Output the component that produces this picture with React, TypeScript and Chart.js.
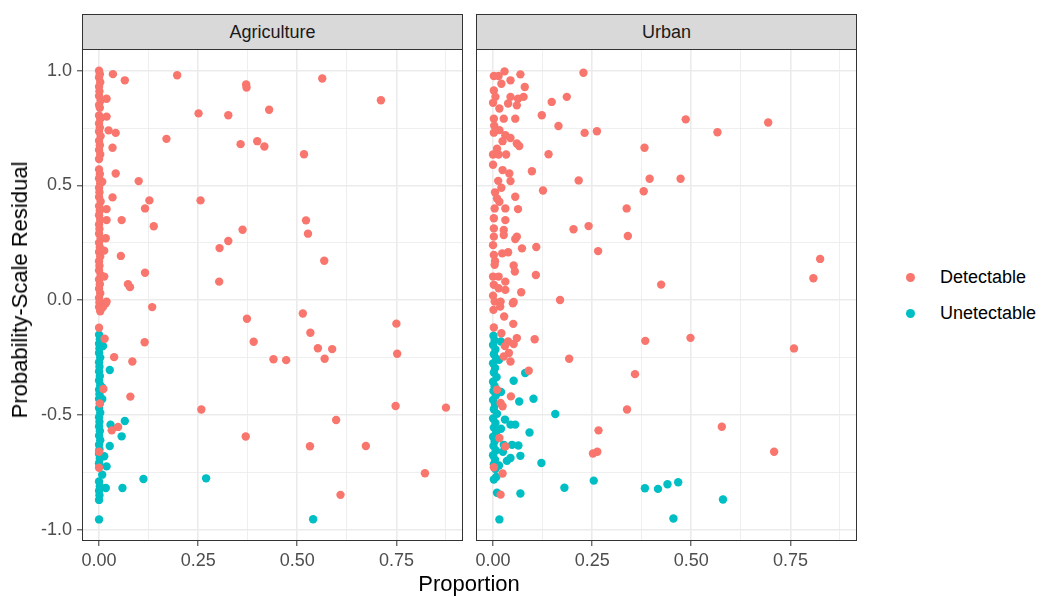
import React, { useEffect, useRef } from 'react';
import { Chart, registerables } from 'chart.js';

Chart.register(...registerables);

type Pt = [number, number];

const FONT = "'Liberation Sans', Arial, Helvetica, sans-serif";
const DETECTABLE_COLOR = '#F8766D';
const UNDETECTABLE_COLOR = '#00BFC4';

const facets = ['Agriculture', 'Urban'];
const groups = ['Detectable', 'Unetectable'];

const xMajor = [0, 0.25, 0.5, 0.75];
const xMinor = [0.125, 0.375, 0.625, 0.875];
const yMajor = [-1, -0.5, 0, 0.5, 1];
const yMinor = [-0.75, -0.25, 0.25, 0.75];
const xLimits = [-0.043, 0.918];
const yLimits = [-1.049, 1.0945];

// Agriculture, detectable residuals (proportion, residual)
const agricultureDetectable: Pt[] = [
  [0.000, 1.000], [0.002, 0.985], [0.000, 0.970], [0.003, 0.950], [0.000, 0.930], [0.001, 0.910],
  [0.000, 0.890], [0.004, 0.870], [0.000, 0.850], [0.002, 0.838], [0.000, 0.805], [0.003, 0.790],
  [0.000, 0.770], [0.002, 0.752], [0.000, 0.735], [0.004, 0.715], [0.000, 0.695], [0.002, 0.675],
  [0.000, 0.655], [0.003, 0.635], [0.000, 0.615], [0.000, 0.570], [0.002, 0.550], [0.000, 0.530],
  [0.003, 0.510], [0.000, 0.490], [0.001, 0.470], [0.000, 0.450], [0.004, 0.430], [0.000, 0.410],
  [0.002, 0.390], [0.000, 0.370], [0.003, 0.350], [0.000, 0.330], [0.001, 0.310], [0.000, 0.290],
  [0.004, 0.270], [0.000, 0.250], [0.002, 0.230], [0.000, 0.210], [0.003, 0.190], [0.000, 0.170],
  [0.001, 0.150], [0.000, 0.130], [0.004, 0.110], [0.000, 0.090], [0.002, 0.070], [0.000, 0.050],
  [0.003, 0.030], [0.000, 0.010], [0.001, -0.010], [0.000, -0.030], [0.003, -0.048],
  [0.035, 0.985], [0.065, 0.958], [0.019, 0.878], [0.019, 0.800], [0.024, 0.740], [0.042, 0.729],
  [0.034, 0.664], [0.042, 0.552], [0.008, 0.516], [0.034, 0.448], [0.019, 0.397], [0.019, 0.349],
  [0.057, 0.349], [0.017, 0.270], [0.013, 0.216], [0.055, 0.193], [0.013, 0.103], [0.073, 0.070],
  [0.078, 0.057], [0.019, -0.006], [0.017, -0.013], [0.010, -0.030],
  [0.197, 0.980], [0.371, 0.940], [0.372, 0.927], [0.563, 0.966], [0.711, 0.871], [0.251, 0.814],
  [0.326, 0.806], [0.429, 0.830], [0.170, 0.703], [0.357, 0.680], [0.399, 0.693], [0.417, 0.670],
  [0.517, 0.636], [0.100, 0.519], [0.127, 0.435], [0.256, 0.435], [0.116, 0.400], [0.522, 0.348],
  [0.138, 0.322], [0.362, 0.307], [0.527, 0.290], [0.326, 0.258], [0.304, 0.227], [0.568, 0.172],
  [0.116, 0.120], [0.303, 0.081],
  [0.134, -0.030], [0.373, -0.081], [0.514, -0.058], [0.750, -0.102], [0.000, -0.120], [0.533, -0.142],
  [0.014, -0.168], [0.115, -0.183], [0.390, -0.181], [0.552, -0.209], [0.588, -0.213], [0.752, -0.233],
  [0.038, -0.248], [0.440, -0.257], [0.472, -0.261], [0.569, -0.255], [0.084, -0.267], [0.011, -0.387],
  [0.079, -0.420], [0.002, -0.450], [0.258, -0.476], [0.748, -0.461], [0.875, -0.468], [0.598, -0.522],
  [0.048, -0.552], [0.032, -0.567], [0.370, -0.594], [0.532, -0.636], [0.673, -0.635], [0.000, -0.660],
  [0.000, -0.730], [0.822, -0.754], [0.609, -0.848],
];

// Agriculture, undetectable residuals
const agricultureUndetectable: Pt[] = [
  [0.000, -0.150], [0.002, -0.170], [0.000, -0.190], [0.010, -0.200], [0.001, -0.210], [0.000, -0.230],
  [0.003, -0.250], [0.000, -0.270], [0.001, -0.290], [0.000, -0.310], [0.002, -0.330], [0.000, -0.350],
  [0.003, -0.370], [0.008, -0.380], [0.000, -0.390], [0.001, -0.410], [0.000, -0.430], [0.002, -0.450],
  [0.000, -0.470], [0.003, -0.490], [0.000, -0.510], [0.001, -0.530], [0.000, -0.550], [0.002, -0.570],
  [0.000, -0.590], [0.003, -0.610], [0.000, -0.630], [0.001, -0.650], [0.000, -0.670], [0.002, -0.690],
  [0.000, -0.710], [0.001, -0.725], [0.000, -0.790], [0.002, -0.810], [0.000, -0.830], [0.001, -0.850],
  [0.000, -0.870], [0.000, -0.955],
  [0.027, -0.304], [0.008, -0.430], [0.029, -0.542], [0.065, -0.526], [0.057, -0.593], [0.027, -0.635],
  [0.013, -0.680], [0.019, -0.724], [0.008, -0.760], [0.017, -0.818], [0.059, -0.818], [0.112, -0.779],
  [0.270, -0.776], [0.540, -0.954],
];

// Urban, detectable residuals
const urbanDetectable: Pt[] = [
  [0.002, 0.977], [0.014, 0.977], [0.029, 0.997], [0.069, 0.984], [0.044, 0.958], [0.021, 0.943],
  [0.080, 0.929], [0.002, 0.914], [0.006, 0.886], [0.044, 0.886], [0.063, 0.878], [0.077, 0.886],
  [0.038, 0.857], [0.060, 0.849], [0.000, 0.860], [0.016, 0.835], [0.002, 0.791], [0.027, 0.791],
  [0.056, 0.791], [0.003, 0.760], [0.002, 0.730], [0.016, 0.741], [0.031, 0.719], [0.044, 0.707],
  [0.024, 0.693], [0.060, 0.683], [0.066, 0.672], [0.010, 0.660], [0.000, 0.635], [0.014, 0.635],
  [0.033, 0.635], [0.000, 0.590], [0.024, 0.567], [0.041, 0.552], [0.044, 0.519], [0.013, 0.520],
  [0.021, 0.490], [0.005, 0.470], [0.010, 0.443], [0.016, 0.429], [0.056, 0.451], [0.004, 0.400],
  [0.031, 0.400], [0.063, 0.397], [0.002, 0.357], [0.031, 0.349], [0.002, 0.313], [0.027, 0.306],
  [0.002, 0.277], [0.027, 0.284], [0.056, 0.267], [0.060, 0.277], [0.000, 0.240], [0.002, 0.197],
  [0.023, 0.204], [0.038, 0.209], [0.005, 0.170], [0.004, 0.154], [0.052, 0.151], [0.055, 0.125],
  [0.000, 0.103], [0.014, 0.103], [0.031, 0.081], [0.002, 0.067], [0.014, 0.052], [0.031, 0.045],
  [0.071, 0.035], [0.000, 0.020], [0.004, -0.006], [0.019, -0.006], [0.052, -0.008],
  [0.228, 0.991], [0.148, 0.864], [0.186, 0.886], [0.123, 0.806], [0.486, 0.788], [0.694, 0.774],
  [0.165, 0.759], [0.231, 0.729], [0.262, 0.736], [0.566, 0.732], [0.382, 0.664], [0.140, 0.636],
  [0.098, 0.562], [0.216, 0.522], [0.395, 0.529], [0.473, 0.529], [0.380, 0.475], [0.126, 0.478],
  [0.337, 0.400], [0.241, 0.323], [0.203, 0.309], [0.340, 0.280], [0.109, 0.232], [0.073, 0.226],
  [0.265, 0.214], [0.825, 0.180], [0.808, 0.096], [0.108, 0.110], [0.424, 0.068], [0.169, 0.001],
  [0.050, -0.013], [0.001, -0.042], [0.018, -0.028], [0.028, -0.071], [0.051, -0.103], [0.002, -0.119],
  [0.021, -0.144], [0.038, -0.180], [0.060, -0.165], [0.052, -0.191], [0.030, -0.200], [0.040, -0.230],
  [0.027, -0.245], [0.044, -0.267], [0.105, -0.170], [0.192, -0.255], [0.090, -0.307], [0.010, -0.390],
  [0.045, -0.419], [0.019, -0.448], [0.024, -0.462], [0.016, -0.600], [0.031, -0.637], [0.002, -0.728],
  [0.024, -0.755], [0.019, -0.847], [0.384, -0.177], [0.498, -0.164], [0.759, -0.210], [0.358, -0.322],
  [0.338, -0.476], [0.577, -0.551], [0.266, -0.567], [0.263, -0.660], [0.252, -0.668], [0.709, -0.660],
];

// Urban, undetectable residuals
const urbanUndetectable: Pt[] = [
  [0.001, -0.155], [0.004, -0.175], [0.000, -0.195], [0.006, -0.215], [0.002, -0.235], [0.008, -0.255],
  [0.000, -0.275], [0.005, -0.295], [0.002, -0.315], [0.009, -0.335], [0.000, -0.355], [0.004, -0.375],
  [0.001, -0.395], [0.007, -0.415], [0.000, -0.435], [0.005, -0.455], [0.002, -0.475], [0.010, -0.495],
  [0.000, -0.515], [0.006, -0.535], [0.002, -0.555], [0.008, -0.575], [0.000, -0.595], [0.004, -0.615],
  [0.001, -0.635], [0.007, -0.655], [0.000, -0.675], [0.005, -0.695], [0.002, -0.715], [0.006, -0.735],
  [0.020, -0.180], [0.015, -0.260], [0.020, -0.400], [0.030, -0.520], [0.020, -0.560], [0.025, -0.660],
  [0.035, -0.700], [0.015, -0.720],
  [0.052, -0.351], [0.081, -0.317], [0.066, -0.441], [0.102, -0.429], [0.157, -0.496], [0.044, -0.542],
  [0.056, -0.542], [0.092, -0.576], [0.027, -0.630], [0.048, -0.630], [0.064, -0.633], [0.069, -0.678],
  [0.044, -0.687], [0.122, -0.709], [0.002, -0.781], [0.008, -0.770], [0.010, -0.839], [0.069, -0.842],
  [0.180, -0.817], [0.254, -0.786], [0.383, -0.819], [0.416, -0.822], [0.440, -0.802], [0.467, -0.793],
  [0.580, -0.868], [0.016, -0.955], [0.455, -0.951],
];

const inList = (list: number[], v: number) => list.some((m) => Math.abs(m - v) < 1e-9);

// Full rectangle around each panel, drawn over the points like a ggplot panel border
const panelBorder = {
  id: 'panelBorder',
  afterDraw(chart: Chart) {
    const { ctx, chartArea } = chart;
    ctx.save();
    ctx.strokeStyle = '#333333';
    ctx.lineWidth = 1;
    ctx.strokeRect(
      Math.round(chartArea.left) + 0.5,
      Math.round(chartArea.top) + 0.5,
      Math.round(chartArea.right - chartArea.left) - 1,
      Math.round(chartArea.bottom - chartArea.top) - 1
    );
    ctx.restore();
  },
};

function buildPanel(
  canvas: HTMLCanvasElement,
  detectable: Pt[],
  undetectable: Pt[],
  withYLabels: boolean
) {
  const pointStyle = { pointRadius: 4.2, pointHoverRadius: 4.2, borderWidth: 0, pointBorderWidth: 0 };
  const tickFont = { family: FONT, size: 18 };
  const gridWidth = (minor: number[]) => (ctx: any) =>
    ctx.tick && inList(minor, ctx.tick.value) ? 0.8 : 1.6;
  const tickColor = (minor: number[]) => (ctx: any) =>
    ctx.tick && inList(minor, ctx.tick.value) ? 'rgba(0,0,0,0)' : '#333333';

  return new Chart(canvas, {
    type: 'scatter',
    data: {
      datasets: [
        {
          label: groups[0],
          data: detectable.map(([x, y]) => ({ x, y })),
          backgroundColor: DETECTABLE_COLOR,
          borderColor: DETECTABLE_COLOR,
          ...pointStyle,
        },
        {
          label: groups[1],
          data: undetectable.map(([x, y]) => ({ x, y })),
          backgroundColor: UNDETECTABLE_COLOR,
          borderColor: UNDETECTABLE_COLOR,
          ...pointStyle,
        },
      ],
    },
    options: {
      responsive: false,
      animation: false,
      devicePixelRatio: 1,
      events: [],
      layout: { autoPadding: false, padding: { top: 49, right: 1, bottom: 0, left: 0 } },
      plugins: { legend: { display: false }, tooltip: { enabled: false } },
      scales: {
        x: {
          type: 'linear',
          min: xLimits[0],
          max: xLimits[1],
          afterBuildTicks: (scale: any) => {
            scale.ticks = [...xMajor, ...xMinor].sort((a, b) => a - b).map((value) => ({ value }));
          },
          afterFit: (scale: any) => {
            scale.height = 56;
          },
          ticks: {
            autoSkip: false,
            maxRotation: 0,
            minRotation: 0,
            padding: 4,
            color: '#4D4D4D',
            font: tickFont,
            callback: (v: any) => (inList(xMinor, Number(v)) ? '' : Number(v).toFixed(2)),
          },
          grid: {
            color: '#EBEBEB',
            lineWidth: gridWidth(xMinor),
            drawTicks: true,
            tickLength: 5,
            tickWidth: 1,
            tickColor: tickColor(xMinor),
          },
          border: { display: false },
        },
        y: {
          type: 'linear',
          min: yLimits[0],
          max: yLimits[1],
          afterBuildTicks: (scale: any) => {
            scale.ticks = [...yMajor, ...yMinor].sort((a, b) => a - b).map((value) => ({ value }));
          },
          afterFit: (scale: any) => {
            scale.width = withYLabels ? 82 : 10;
          },
          ticks: {
            display: withYLabels,
            autoSkip: false,
            padding: 5,
            color: '#4D4D4D',
            font: tickFont,
            callback: (v: any) => (inList(yMinor, Number(v)) ? '' : Number(v).toFixed(1)),
          },
          grid: {
            color: '#EBEBEB',
            lineWidth: gridWidth(yMinor),
            drawTicks: withYLabels,
            tickLength: 5,
            tickWidth: 1,
            tickColor: tickColor(yMinor),
          },
          border: { display: false },
        },
      },
    },
    plugins: [panelBorder],
  } as any);
}

function Strip({ left, width, text }: { left: number; width: number; text: string }) {
  return (
    <div
      style={{
        position: 'absolute',
        left,
        top: 14,
        width,
        height: 36,
        boxSizing: 'border-box',
        border: '1px solid #333333',
        background: '#D9D9D9',
        color: '#1A1A1A',
        fontFamily: FONT,
        fontSize: 18,
        display: 'flex',
        alignItems: 'center',
        justifyContent: 'center',
      }}
    >
      {text}
    </div>
  );
}

function LegendItem({ top, color, text }: { top: number; color: string; text: string }) {
  return (
    <div style={{ position: 'absolute', left: 900, top: top - 12, height: 24, display: 'flex', alignItems: 'center' }}>
      <div style={{ width: 9, height: 9, borderRadius: '50%', background: color, marginLeft: 6, marginRight: 25 }} />
      <span style={{ fontFamily: FONT, fontSize: 18, color: '#000000' }}>{text}</span>
    </div>
  );
}

export default function App() {
  const leftRef = useRef<HTMLCanvasElement>(null);
  const rightRef = useRef<HTMLCanvasElement>(null);

  useEffect(() => {
    if (!leftRef.current || !rightRef.current) return;
    const left = buildPanel(leftRef.current, agricultureDetectable, agricultureUndetectable, true);
    const right = buildPanel(rightRef.current, urbanDetectable, urbanUndetectable, false);
    return () => {
      left.destroy();
      right.destroy();
    };
  }, []);

  return (
    <div style={{ position: 'absolute', left: 0, top: 0, width: 1042, height: 597, background: '#FFFFFF', overflow: 'hidden' }}>
      <canvas ref={leftRef} width={464} height={597} style={{ position: 'absolute', left: 0, top: 0 }} />
      <canvas ref={rightRef} width={392} height={597} style={{ position: 'absolute', left: 466, top: 0 }} />
      <Strip left={82} width={381} text={facets[0]} />
      <Strip left={476} width={381} text={facets[1]} />
      <div
        style={{
          position: 'absolute',
          left: 20,
          top: 290,
          transform: 'translate(-50%, -50%) rotate(-90deg)',
          whiteSpace: 'nowrap',
          fontFamily: FONT,
          fontSize: 22,
          color: '#000000',
        }}
      >
        Probability-Scale Residual
      </div>
      <div
        style={{
          position: 'absolute',
          left: 469,
          top: 584,
          transform: 'translate(-50%, -50%)',
          whiteSpace: 'nowrap',
          fontFamily: FONT,
          fontSize: 22,
          color: '#000000',
        }}
      >
        Proportion
      </div>
      <LegendItem top={277} color={DETECTABLE_COLOR} text={groups[0]} />
      <LegendItem top={313} color={UNDETECTABLE_COLOR} text={groups[1]} />
    </div>
  );
}
